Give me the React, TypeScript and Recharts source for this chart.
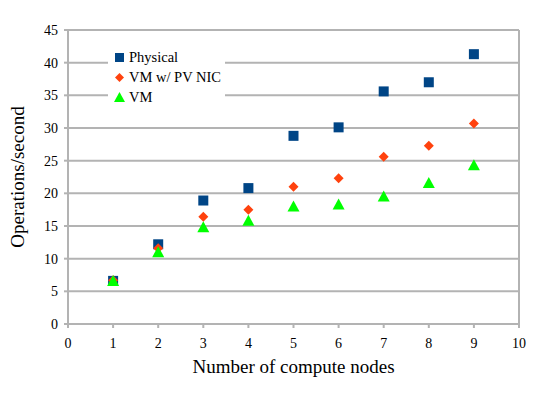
import { ScatterChart, Scatter, XAxis, YAxis, CartesianGrid, Legend, ReferenceLine } from 'recharts';

const nodes = [1, 2, 3, 4, 5, 6, 7, 8, 9];
const physical = [6.6, 12.2, 18.9, 20.8, 28.8, 30.1, 35.6, 37.0, 41.3];
const vmPvNic = [6.7, 11.6, 16.4, 17.5, 21.0, 22.3, 25.6, 27.3, 30.7];
const vm = [6.6, 11.0, 14.8, 15.8, 18.0, 18.3, 19.5, 21.6, 24.3];
const xTicks = [0, 1, 2, 3, 4, 5, 6, 7, 8, 9, 10];
const yTicks = [0, 5, 10, 15, 20, 25, 30, 35, 40, 45];

const toPoints = (vals: number[]) => nodes.map((n, i) => ({ x: n, y: vals[i] }));

const FONT = 'Liberation Serif, serif';
const GRID = '#b3b3b3';

const Square = ({ cx, cy }: any) => <rect x={cx - 5} y={cy - 5} width={10} height={10} fill="#004586" />;
const Diamond = ({ cx, cy }: any) => (
  <polygon points={`${cx},${cy - 5} ${cx + 5},${cy} ${cx},${cy + 5} ${cx - 5},${cy}`} fill="#ff420e" />
);
const Triangle = ({ cx, cy }: any) => (
  <polygon points={`${cx},${cy - 6} ${cx + 6},${cy + 5} ${cx - 6},${cy + 5}`} fill="#00ff00" />
);

const legendItems = [
  { name: 'Physical', icon: <rect x={1} y={1} width={9} height={9} fill="#004586" /> },
  { name: 'VM w/ PV NIC', icon: <polygon points="5.5,1 10,5.5 5.5,10 1,5.5" fill="#ff420e" /> },
  { name: 'VM', icon: <polygon points="5.5,0 11,10 0,10" fill="#00ff00" /> },
];

const LegendBox = () => (
  <div style={{ background: '#fff', padding: '0px 4px 0px 6px', fontFamily: FONT, fontSize: 14.5, color: '#000' }}>
    {legendItems.map((it) => (
      <div key={it.name} style={{ display: 'flex', alignItems: 'center', height: 20 }}>
        <svg width={11} height={11} style={{ marginRight: 4 }}>{it.icon}</svg>
        <span>{it.name}</span>
      </div>
    ))}
  </div>
);

const tickStyle = { fill: '#000', fontFamily: FONT, fontSize: 14 };

export default function App() {
  return (
    <div style={{ position: 'absolute', left: 0, top: 0, width: 540, height: 395, background: '#fff' }}>
      <ScatterChart width={540} height={395} margin={{ top: 30, right: 21, bottom: 21, left: 8 }}>
        <CartesianGrid horizontal vertical={false} stroke={GRID} strokeWidth={2} />
        <XAxis
          type="number"
          dataKey="x"
          domain={[0, 10]}
          ticks={xTicks}
          interval={0}
          stroke={GRID}
          strokeWidth={2}
          tickSize={4}
          tickMargin={10}
          tick={tickStyle}
          height={50}
          label={{ value: 'Number of compute nodes', position: 'insideBottom', offset: 1, fill: '#000', fontFamily: FONT, fontSize: 19 }}
        />
        <YAxis
          type="number"
          dataKey="y"
          domain={[0, 45]}
          ticks={yTicks}
          interval={0}
          stroke={GRID}
          strokeWidth={2}
          tickSize={4}
          tickMargin={6}
          width={60}
          tick={tickStyle}
          label={{ value: 'Operations/second', angle: -90, position: 'insideLeft', offset: 9, style: { textAnchor: 'middle' }, fill: '#000', fontFamily: FONT, fontSize: 19 }}
        />
        <ReferenceLine x={10} stroke={GRID} strokeWidth={2} />
        <Legend
          content={<LegendBox />}
          layout="vertical"
          align="center"
          verticalAlign="middle"
          wrapperStyle={{ left: 108, top: 47, width: 'auto' }}
        />
        <Scatter name="Physical" data={toPoints(physical)} shape={<Square />} isAnimationActive={false} />
        <Scatter name="VM w/ PV NIC" data={toPoints(vmPvNic)} shape={<Diamond />} isAnimationActive={false} />
        <Scatter name="VM" data={toPoints(vm)} shape={<Triangle />} isAnimationActive={false} />
      </ScatterChart>
    </div>
  );
}
